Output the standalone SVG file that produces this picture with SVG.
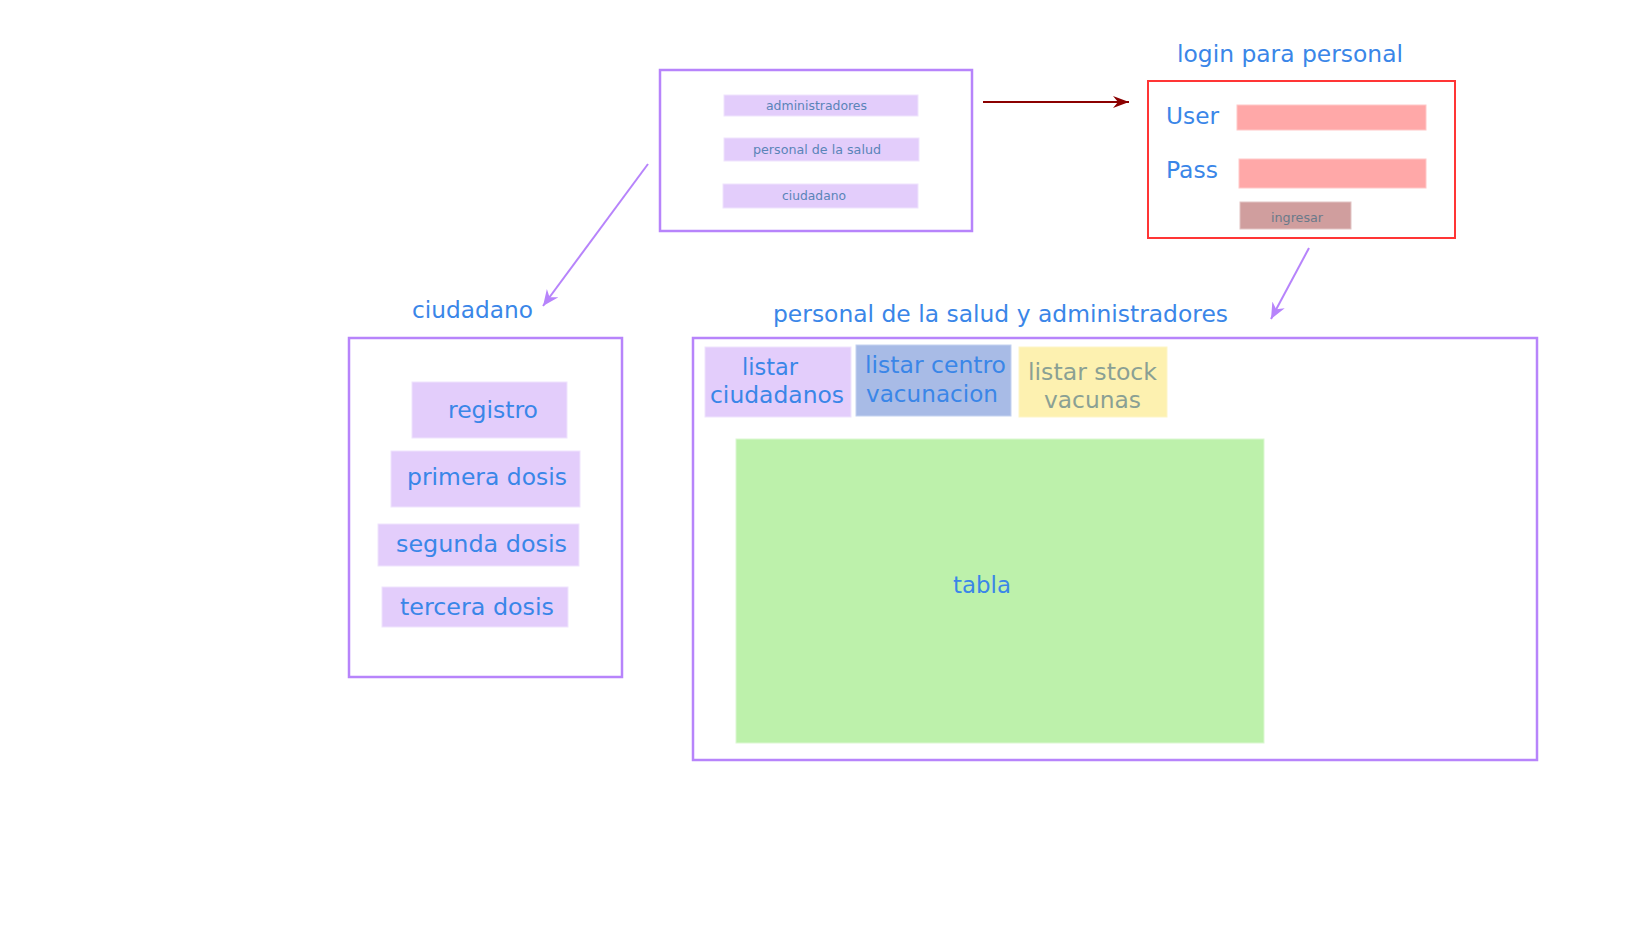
<svg xmlns="http://www.w3.org/2000/svg" width="1648" height="927" viewBox="0 0 1648 927">
<style>
text{font-family:"DejaVu Sans","Liberation Sans",sans-serif;fill:#3a86e8;lengthAdjust:spacingAndGlyphs}
.frame{fill:#ffffff;stroke:#b784fb;stroke-width:2.5}
.btn{fill:#e3cdfb;stroke:#efe4fd;stroke-width:1}
.small{font-size:12px;fill:#5a84b8}
.big{font-size:23px}
.field{fill:#ffa8a8;stroke:#ffc8c8;stroke-width:1}
.conn{fill:none;stroke-width:2}
</style>
<defs>
<marker id="ahP" markerUnits="userSpaceOnUse" markerWidth="18" markerHeight="18" refX="16" refY="8" orient="auto">
<path d="M0,1 L16,8 L0,15 L5,8 z" fill="#b784fb"/>
</marker>
<marker id="ahR" markerUnits="userSpaceOnUse" markerWidth="18" markerHeight="18" refX="16" refY="8" orient="auto">
<path d="M0,2 L16,8 L0,14 L5,8 z" fill="#8b0000"/>
</marker>
</defs>

<g id="connectors">
<line class="conn" x1="648" y1="164" x2="543" y2="306" stroke="#b784fb" marker-end="url(#ahP)"/>
<line class="conn" x1="983" y1="102" x2="1129" y2="102" stroke="#8b0000" marker-end="url(#ahR)"/>
<line class="conn" x1="1309" y1="248" x2="1271" y2="319" stroke="#b784fb" marker-end="url(#ahP)"/>
</g>

<g id="menu">
<rect class="frame" x="660" y="70" width="312" height="161"/>
<rect class="btn" x="724" y="95" width="194" height="21"/>
<text class="small" x="766" y="110" textLength="101" lengthAdjust="spacingAndGlyphs">administradores</text>
<rect class="btn" x="724" y="138" width="195" height="23"/>
<text class="small" x="753" y="154" textLength="128" lengthAdjust="spacingAndGlyphs">personal de la salud</text>
<rect class="btn" x="723" y="184" width="195" height="24"/>
<text class="small" x="782" y="200" textLength="64" lengthAdjust="spacingAndGlyphs">ciudadano</text>
</g>

<g id="login">
<text class="big" x="1177" y="62" textLength="226" lengthAdjust="spacingAndGlyphs">login para personal</text>
<rect x="1148" y="81" width="307" height="157" fill="#ffffff" stroke="#ff3535" stroke-width="2"/>
<text class="big" x="1166" y="124" textLength="53" lengthAdjust="spacingAndGlyphs">User</text>
<rect class="field" x="1237" y="105" width="189" height="25"/>
<text class="big" x="1166" y="178" textLength="52" lengthAdjust="spacingAndGlyphs">Pass</text>
<rect class="field" x="1239" y="159" width="187" height="29"/>
<rect x="1240" y="202" width="111" height="27" fill="#d09e9e" stroke="#e2c4c4" stroke-width="1"/>
<text class="small" x="1271" y="222" textLength="52" lengthAdjust="spacingAndGlyphs" style="fill:#6a7a8a">ingresar</text>
</g>

<g id="ciudadano">
<text class="big" x="412" y="318" textLength="121" lengthAdjust="spacingAndGlyphs">ciudadano</text>
<rect class="frame" x="349" y="338" width="273" height="339"/>
<rect class="btn" x="412" y="382" width="155" height="56"/>
<text class="big" x="448" y="418" textLength="90" lengthAdjust="spacingAndGlyphs">registro</text>
<rect class="btn" x="391" y="451" width="189" height="56"/>
<text class="big" x="407" y="485" textLength="160" lengthAdjust="spacingAndGlyphs">primera dosis</text>
<rect class="btn" x="378" y="524" width="201" height="42"/>
<text class="big" x="396" y="552" textLength="171" lengthAdjust="spacingAndGlyphs">segunda dosis</text>
<rect class="btn" x="382" y="587" width="186" height="40"/>
<text class="big" x="400" y="615" textLength="154" lengthAdjust="spacingAndGlyphs">tercera dosis</text>
</g>

<g id="personal">
<text class="big" x="773" y="322" textLength="455" lengthAdjust="spacingAndGlyphs">personal de la salud y administradores</text>
<rect class="frame" x="693" y="338" width="844" height="422"/>
<rect class="btn" x="705" y="347" width="146" height="70"/>
<text class="big" x="742" y="375" textLength="56" lengthAdjust="spacingAndGlyphs">listar</text>
<text class="big" x="710" y="403" textLength="134" lengthAdjust="spacingAndGlyphs">ciudadanos</text>
<rect x="856" y="345" width="155" height="71" fill="#a8bbe6" stroke="#c4d2f0" stroke-width="1"/>
<text class="big" x="865" y="373" textLength="141" lengthAdjust="spacingAndGlyphs">listar centro</text>
<text class="big" x="866" y="402" textLength="132" lengthAdjust="spacingAndGlyphs">vacunacion</text>
<rect x="1019" y="347" width="148" height="70" fill="#fdf1b0" stroke="#fdf5c8" stroke-width="1"/>
<text class="big" x="1028" y="380" textLength="129" lengthAdjust="spacingAndGlyphs" style="fill:#8aa094">listar stock</text>
<text class="big" x="1044" y="408" textLength="97" lengthAdjust="spacingAndGlyphs" style="fill:#8aa094">vacunas</text>
<rect x="736" y="439" width="528" height="304" fill="#bdf1ab" stroke="#dcf7d2" stroke-width="1"/>
<text class="big" x="953" y="593" textLength="58" lengthAdjust="spacingAndGlyphs">tabla</text>
</g>
</svg>
